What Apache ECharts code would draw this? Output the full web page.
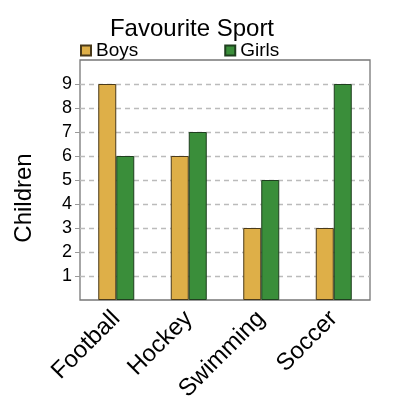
<!DOCTYPE html>
<html><head><meta charset="utf-8">
<script src="https://cdn.jsdelivr.net/npm/echarts@6/dist/echarts.min.js"></script>
<style>html,body{margin:0;padding:0;background:#fff}#c{width:400px;height:400px}</style>
</head><body><div id="c"></div>
<script>
const categories = ["Football", "Hockey", "Swimming", "Soccer"];
const boys = [9, 6, 3, 3];
const girls = [6, 7, 5, 9];
const yTicks = [1, 2, 3, 4, 5, 6, 7, 8, 9];

const chart = echarts.init(document.getElementById('c'));
chart.setOption({
  animation: false,
  textStyle: { fontFamily: 'Liberation Sans, Arial, sans-serif' },
  title: {
    text: 'Favourite Sport', left: 187, top: 12, textAlign: 'center',
    textStyle: { fontSize: 24, fontWeight: 'normal', color: '#000' }
  },
  legend: {
    left: 80, top: 41, padding: 0, itemWidth: 10, itemHeight: 10, itemGap: 86, icon: 'rect',
    textStyle: { fontSize: 19, color: '#000' },
    data: ['Boys', 'Girls']
  },
  grid: { left: 80, right: 30, top: 60, bottom: 100, show: true, borderColor: '#777', borderWidth: 1.3,
    outerBoundsMode: 'none', containLabel: false },
  xAxis: {
    type: 'category', data: categories,
    axisLine: { show: false }, axisTick: { show: false },
    axisLabel: { rotate: 45, fontSize: 24, color: '#000', margin: 15 }
  },
  yAxis: {
    type: 'value', min: 0, max: 10, interval: 1,
    name: 'Children', nameLocation: 'middle', nameGap: 44,
    nameTextStyle: { fontSize: 24, color: '#000', padding: [0, 36, 0, 0] },
    axisLine: { show: false },
    axisTick: { show: true, length: 5, customValues: yTicks, lineStyle: { color: '#999' } },
    axisLabel: { fontSize: 18, color: '#000', margin: 8, customValues: yTicks,
      formatter: v => yTicks.includes(v) ? String(v) : '' },
    splitLine: { lineStyle: { type: [5, 4], color: '#bbb', width: 1.3 } }
  },
  series: [
    { name: 'Boys', type: 'bar', data: boys, barWidth: 18, barGap: '0%',
      itemStyle: { color: '#DEAF48', borderColor: '#4a3a1a', borderWidth: 1 } },
    { name: 'Girls', type: 'bar', data: girls, barWidth: 18,
      itemStyle: { color: '#3A8E3A', borderColor: '#1f3f1f', borderWidth: 1 } }
  ]
});
</script></body></html>
